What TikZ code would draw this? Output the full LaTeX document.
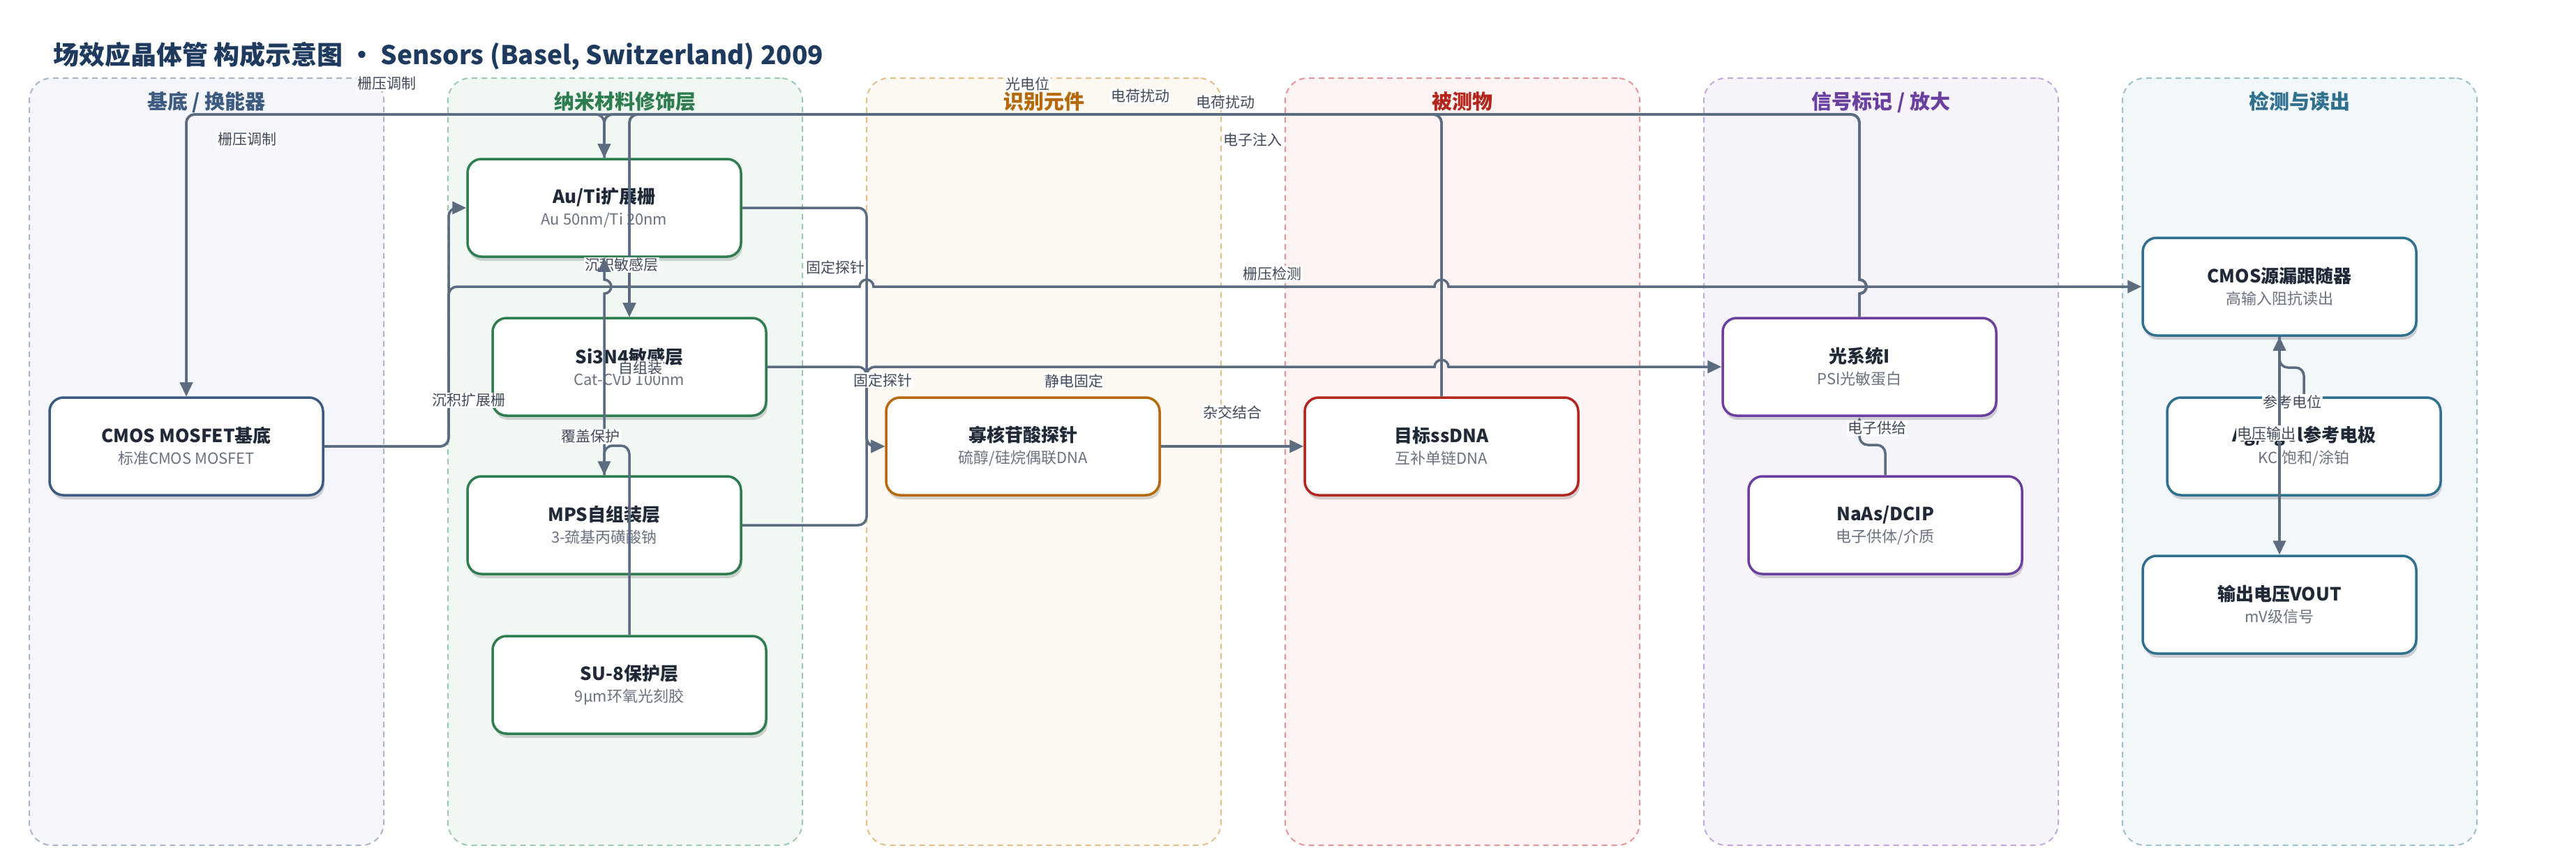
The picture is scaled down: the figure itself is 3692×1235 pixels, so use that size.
\documentclass[tikz,border=0pt]{standalone}
\usepackage{fontspec}
\setmainfont{Noto Sans CJK SC}
\usetikzlibrary{arrows.meta,shadows}

\definecolor{edgec}{HTML}{5B6B80}
\definecolor{titlec}{HTML}{1E3A5F}
\definecolor{ntitle}{HTML}{1F2937}
\definecolor{nsub}{HTML}{6B7280}
\definecolor{lblc}{HTML}{3F4A5A}
\definecolor{fA}{HTML}{F4F6FB}\definecolor{bA}{HTML}{A9B5C9}\definecolor{tA}{HTML}{3D5A80}
\definecolor{fB}{HTML}{F1F8F3}\definecolor{bB}{HTML}{9DCBAD}\definecolor{tB}{HTML}{2E7D4F}
\definecolor{fC}{HTML}{FDF8F1}\definecolor{bC}{HTML}{E6BF88}\definecolor{tC}{HTML}{B5690A}
\definecolor{fD}{HTML}{FDF3F2}\definecolor{bD}{HTML}{E69595}\definecolor{tD}{HTML}{B3261E}
\definecolor{fE}{HTML}{F6F3FB}\definecolor{bE}{HTML}{C4A8E0}\definecolor{tE}{HTML}{6B3FA0}
\definecolor{fF}{HTML}{F2F7F9}\definecolor{bF}{HTML}{9DC1CD}\definecolor{tF}{HTML}{2F6F8F}

\tikzset{
  lanebox/.style 2 args={draw=#1, fill=#2, line width=2pt, dash pattern=on 8pt off 6pt,
    rounded corners=32pt, minimum width=508pt, minimum height=1100pt, inner sep=0pt},
  lanetitle/.style={text=#1, font=\fontsize{29}{34}\selectfont\bfseries, inner sep=0pt, anchor=base},
  nbox/.style={draw=#1, fill=white, line width=3.5pt, rounded corners=20pt,
    minimum width=392pt, minimum height=140pt, inner sep=0pt, align=center,
    text=nsub, font=\fontsize{22}{31}\selectfont,
    drop shadow={shadow xshift=2pt, shadow yshift=-6pt, opacity=0.16, fill=black}},
  conn/.style={draw=edgec, line width=3.5pt, rounded corners=12pt,
    -{Triangle[length=20pt,width=18pt]}},
  lbl/.style={fill=white, inner sep=1.5pt, text=lblc, font=\fontsize{21}{24}\selectfont},
}
\newcommand{\nt}[2]{{\fontsize{26}{31}\selectfont\bfseries\color{ntitle}#1}\\#2}

\begin{document}
\begin{tikzpicture}[x=1pt,y=-1pt]
\useasboundingbox (0,0) rectangle (3692,1235);

% title
\node[anchor=base west, inner sep=0pt, text=titlec, font=\fontsize{37}{44}\selectfont\bfseries]
  (title) at (76,92) {场效应晶体管 构成示意图 · Sensors (Basel, Switzerland) 2009};

% lanes
\node[lanebox={bA}{fA}] (laneA) at (296,662) {};
\node[lanebox={bB}{fB}] (laneB) at (896,662) {};
\node[lanebox={bC}{fC}] (laneC) at (1496,662) {};
\node[lanebox={bD}{fD}] (laneD) at (2096,662) {};
\node[lanebox={bE}{fE}] (laneE) at (2696,662) {};
\node[lanebox={bF}{fF}] (laneF) at (3296,662) {};
\node[lanetitle=tA] (ltA) at (296,156) {基底 / 换能器};
\node[lanetitle=tB] (ltB) at (896,156) {纳米材料修饰层};
\node[lanetitle=tC] (ltC) at (1496,156) {识别元件};
\node[lanetitle=tD] (ltD) at (2096,156) {被测物};
\node[lanetitle=tE] (ltE) at (2696,156) {信号标记 / 放大};
\node[lanetitle=tF] (ltF) at (3296,156) {检测与读出};

% nodes
\node[nbox=tA] (cmos) at (267,640) {\nt{CMOS MOSFET基底}{标准CMOS MOSFET}};
\node[nbox=tB] (auti) at (866,298) {\nt{Au/Ti扩展栅}{Au 50nm/Ti 20nm}};
\node[nbox=tB] (si3n4) at (902,526) {\nt{Si3N4敏感层}{Cat-CVD 100nm}};
\node[nbox=tB] (mps) at (866,753) {\nt{MPS自组装层}{3-巯基丙磺酸钠}};
\node[nbox=tB] (su8) at (902,982) {\nt{SU-8保护层}{9μm环氧光刻胶}};
\node[nbox=tC] (probe) at (1466,640) {\nt{寡核苷酸探针}{硫醇/硅烷偶联DNA}};
\node[nbox=tD] (ssdna) at (2066,640) {\nt{目标ssDNA}{互补单链DNA}};
\node[nbox=tE] (psi) at (2665,526) {\nt{光系统I}{PSI光敏蛋白}};
\node[nbox=tE] (naas) at (2702,753) {\nt{NaAs/DCIP}{电子供体/介质}};
\node[nbox=tF] (follower) at (3267,411) {\nt{CMOS源漏跟随器}{高输入阻抗读出}};
\node[nbox=tF] (ref) at (3302,640) {\nt{Ag/AgCl参考电极}{KCl饱和/涂铂}};
\node[nbox=tF] (vout) at (3267,867) {\nt{输出电压VOUT}{mV级信号}};

% connectors along the top line
\draw[conn] (auti.north) -- (866,164) -- (267,164) -- (cmos.north);
\draw[conn] (psi.north) -- (2665,440) [sharp corners] -- (2665,421)
  arc[start angle=-90,end angle=90,radius=10pt] [rounded corners=12pt]
  -- (2665,300) -- (2665,164) -- (267,164) -- (cmos.north);
\draw[conn] (psi.north) -- (2665,440) [sharp corners] -- (2665,421)
  arc[start angle=-90,end angle=90,radius=10pt] [rounded corners=12pt]
  -- (2665,300) -- (2665,164) -- (866,164) -- (auti.north);
\draw[conn] (psi.north) -- (2665,440) [sharp corners] -- (2665,421)
  arc[start angle=-90,end angle=90,radius=10pt] [rounded corners=12pt]
  -- (2665,300) -- (2665,164) -- (902,164) -- (si3n4.north);
\draw[conn] (ssdna.north) -- (2066,164) -- (866,164) -- (auti.north);
\draw[conn] (ssdna.north) -- (2066,164) -- (902,164) -- (si3n4.north);
\node[lbl] (lb1) at (354,200) {栅压调制};
\node[lbl] (lb2) at (554,120) {栅压调制};
\node[lbl] (lb3) at (1473,120) {光电位};
\node[lbl] (lb4) at (1634,138) {电荷扰动};
\node[lbl] (lb5) at (1756,147) {电荷扰动};
\node[lbl] (lb6) at (1795,200) {电子注入};

% substrate connectors
\draw[conn] (cmos.east) -- (643,640) -- (643,298) -- (auti.west);
\draw[conn] (cmos.east) -- (643,640) -- (643,411) -- (1100,411) [sharp corners] -- (1232,411)
  arc[start angle=180,end angle=0,radius=10pt] -- (2056,411)
  arc[start angle=180,end angle=0,radius=10pt] -- (follower.west);
\node[lbl] (lb7) at (672,574) {沉积扩展栅};
\node[lbl] (lb8) at (1823,392) {栅压检测};

% probe immobilisation
\draw[conn] (auti.east) -- (1242,298) -- (1242,640) -- (probe.west);
\draw[conn] (si3n4.east) -- (1242,526) -- (1242,640) -- (probe.west);
\draw[conn] (mps.east) -- (1242,753) -- (1242,526) -- (1500,526) [sharp corners] -- (2056,526)
  arc[start angle=180,end angle=0,radius=10pt] -- (psi.west);
\node[lbl] (lb9) at (1197,383) {固定探针};
\node[lbl] (lb10) at (1265,545) {固定探针};
\node[lbl] (lb11) at (1539,546) {静电固定};

\draw[conn] (probe.east) -- (ssdna.west);
\node[lbl] (lb12) at (1766,591) {杂交结合};

% layer stack
\draw[conn] (auti.south -| si3n4.north) -- (si3n4.north);
\node[lbl] (lb13) at (891,380) {沉积敏感层};
\draw[conn] (mps.north) -- (866,440) [sharp corners] -- (866,421)
  arc[start angle=-90,end angle=90,radius=10pt] -- (auti.south);
\node[lbl] (lb14) at (918,528) {自组装};
\draw[conn] (su8.north) -- (902,639) -- (866,639) -- (mps.north);
\node[lbl] (lb15) at (846,626) {覆盖保护};

% signal side
\draw[conn] (naas.north) -- (2702,638) -- (2665,638) -- (psi.south);
\node[lbl] (lb16) at (2690,614) {电子供给};
\draw[conn] (ref.north) -- (3302,527) -- (3267,527) -- (follower.south);
\node[lbl] (lb17) at (3285,576) {参考电位};
\draw[conn] (follower.south) -- (vout.north);
\node[lbl] (lb18) at (3248,621) {电压输出};
\end{tikzpicture}
\end{document}
